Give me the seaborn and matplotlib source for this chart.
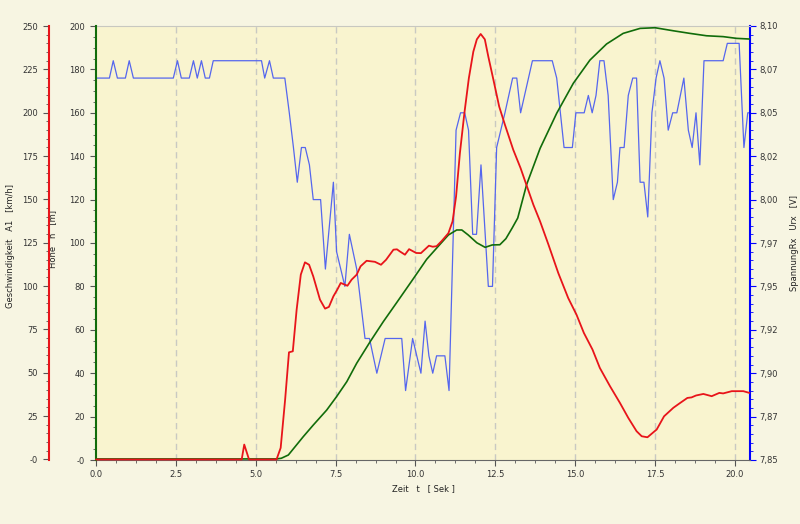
import numpy as np
import pandas as pd
import matplotlib
matplotlib.use("Agg")
import matplotlib.pyplot as plt
from matplotlib.ticker import MultipleLocator, FixedLocator
import seaborn as sns

# ---------------------------------------------------------------------------
# Data
# ---------------------------------------------------------------------------

# Geschwindigkeit A1 [km/h]
t_speed = [0.0, 4.56, 4.64, 4.79, 5.65, 5.78, 5.92, 6.04, 6.16, 6.28, 6.41, 6.54,
           6.67, 6.80, 7.01, 7.17, 7.29, 7.43, 7.55, 7.66, 7.87, 8.00, 8.16, 8.28,
           8.47, 8.73, 8.92, 9.08, 9.31, 9.42, 9.51, 9.67, 9.80, 10.02, 10.17, 10.42,
           10.54, 10.66, 10.82, 11.03, 11.16, 11.27, 11.39, 11.53, 11.67, 11.81,
           11.92, 12.04, 12.17, 12.28, 12.44, 12.62, 12.80, 13.06, 13.29, 13.46,
           13.69, 13.90, 14.16, 14.47, 14.78, 15.04, 15.27, 15.54, 15.77, 16.09,
           16.40, 16.66, 16.92, 17.08, 17.26, 17.55, 17.78, 18.07, 18.26, 18.51,
           18.64, 18.78, 19.01, 19.27, 19.51, 19.63, 19.90, 20.26, 20.45]
speed = [0, 0, 8.6, 0, 0, 6.7, 34.6, 61.8, 62.4, 86.4, 106.6, 113.7,
         112.3, 105.6, 92.2, 87.0, 88.0, 94.1, 97.9, 101.8, 100.2, 103.7, 106.6, 111.4,
         114.6, 114.0, 112.3, 115.2, 121.0, 121.2, 120.0, 118.1, 121.3, 119.1, 119.0, 123.3,
         122.7, 123.0, 126.0, 130.5, 137.3, 151.7, 176.7, 199.7, 219.9, 235.2,
         242.3, 245.4, 242.3, 232.3, 218.9, 203.5, 193.0, 178.6, 168.0, 159.0,
         146.9, 137.3, 124.0, 107.5, 93.1, 83.5, 73.0, 63.4, 52.8, 42.2,
         32.6, 24.0, 16.3, 13.4, 12.8, 17.3, 24.9, 29.8, 32.3, 35.5,
         35.8, 36.9, 37.8, 36.5, 38.4, 38.1, 39.4, 39.4, 38.4]

# Höhe h [m]
t_height = [0.0, 5.65, 5.80, 6.02, 6.23, 6.49, 6.80, 7.22, 7.53, 7.85, 8.16, 8.58,
            8.99, 9.41, 9.93, 10.35, 10.75, 11.03, 11.29, 11.45, 11.65, 11.92, 12.18,
            12.40, 12.64, 12.83, 13.03, 13.20, 13.48, 13.90, 14.42, 14.94, 15.46,
            15.98, 16.50, 17.03, 17.50, 18.07, 18.59, 19.11, 19.63, 20.05, 20.45]
height = [0.5, 0.5, 0.8, 2.3, 6.1, 10.8, 16.1, 23.0, 29.2, 36.1, 44.6, 54.5,
          63.7, 72.5, 83.5, 92.5, 99.1, 103.7, 106.0, 106.0, 103.7, 100.1, 98.0,
          99.1, 99.2, 102.0, 107.0, 111.5, 127.0, 143.6, 159.8, 173.6, 184.3,
          191.7, 196.6, 198.9, 199.2, 197.8, 196.6, 195.5, 195.1, 194.3, 194.0]

# SpannungRx Urx [V]
t_volt = [0.0, 0.42, 0.54, 0.67, 0.92, 1.04, 1.17, 2.42, 2.55, 2.67, 2.92, 3.05,
          3.17, 3.30, 3.42, 3.55, 3.67, 5.18, 5.28, 5.43, 5.55, 5.91, 6.05, 6.18,
          6.30, 6.43, 6.55, 6.68, 6.80, 7.03, 7.18, 7.43, 7.53, 7.79, 7.93, 8.16,
          8.42, 8.56, 8.79, 9.05, 9.57, 9.69, 9.91, 10.17, 10.30, 10.42, 10.54,
          10.66, 10.92, 11.05, 11.27, 11.41, 11.54, 11.66, 11.79, 11.91, 12.05,
          12.28, 12.41, 12.54, 12.80, 13.04, 13.17, 13.29, 13.66, 14.28, 14.42,
          14.65, 14.91, 15.02, 15.28, 15.41, 15.53, 15.65, 15.77, 15.90, 16.03,
          16.19, 16.32, 16.40, 16.53, 16.66, 16.80, 16.92, 17.03, 17.15, 17.27,
          17.40, 17.53, 17.65, 17.78, 17.91, 18.05, 18.18, 18.40, 18.54, 18.66,
          18.78, 18.90, 19.03, 19.63, 19.76, 20.13, 20.28, 20.40, 20.45]
volt = [8.07, 8.07, 8.08, 8.07, 8.07, 8.08, 8.07, 8.07, 8.08, 8.07, 8.07, 8.08,
        8.07, 8.08, 8.07, 8.07, 8.08, 8.08, 8.07, 8.08, 8.07, 8.07, 8.05, 8.03,
        8.01, 8.03, 8.03, 8.02, 8.00, 8.00, 7.96, 8.01, 7.97, 7.95, 7.98, 7.96,
        7.92, 7.92, 7.90, 7.92, 7.92, 7.89, 7.92, 7.90, 7.93, 7.91, 7.90,
        7.91, 7.91, 7.89, 8.04, 8.05, 8.05, 8.04, 7.98, 7.98, 8.02,
        7.95, 7.95, 8.03, 8.05, 8.07, 8.07, 8.05, 8.08, 8.08, 8.07,
        8.03, 8.03, 8.05, 8.05, 8.06, 8.05, 8.06, 8.08, 8.08, 8.06,
        8.00, 8.01, 8.03, 8.03, 8.06, 8.07, 8.07, 8.01, 8.01, 7.99,
        8.05, 8.07, 8.08, 8.07, 8.04, 8.05, 8.05, 8.07, 8.04, 8.03,
        8.05, 8.02, 8.08, 8.08, 8.09, 8.09, 8.03, 8.05, 8.05]

speed_ticks = [0, 25, 50, 75, 100, 125, 150, 175, 200, 225, 250]
speed_labels = ["-0", "25", "50", "75", "100", "125", "150", "175", "200", "225", "250"]
height_ticks = [0, 20, 40, 60, 80, 100, 120, 140, 160, 180, 200]
height_labels = ["-0", "20", "40", "60", "80", "100", "120", "140", "160", "180", "200"]
volt_ticks = [7.85, 7.875, 7.90, 7.925, 7.95, 7.975, 8.00, 8.025, 8.05, 8.075, 8.10]
volt_labels = ["7,85", "7,87", "7,90", "7,92", "7,95", "7,97",
               "8,00", "8,02", "8,05", "8,07", "8,10"]
time_ticks = [0.0, 2.5, 5.0, 7.5, 10.0, 12.5, 15.0, 17.5, 20.0]

# ---------------------------------------------------------------------------
# Style
# ---------------------------------------------------------------------------

FIG_BG = "#F7F5E2"
PLOT_BG = "#F9F4CF"
RED = "#E8141A"
GREEN = "#116C0A"
BLUE_LINE = "#5566EE"
BLUE_AXIS = "#0000FF"
FS = 6

sns.set_style("ticks")
plt.rcParams["font.family"] = ["DejaVu Sans"]
plt.rcParams["font.size"] = FS

fig = plt.figure(figsize=(8, 5.24), dpi=100, facecolor=FIG_BG)
ax_u = fig.add_axes([96 / 800, 1 - 460 / 524, 654 / 800, 434 / 524])
ax_u.set_facecolor(PLOT_BG)
ax_h = ax_u.twinx()
ax_v = ax_u.twinx()

df_u = pd.DataFrame({"t": t_volt, "u": volt})
df_h = pd.DataFrame({"t": t_height, "h": height})
df_v = pd.DataFrame({"t": t_speed, "v": speed})

sns.lineplot(data=df_u, x="t", y="u", ax=ax_u, color=BLUE_LINE, lw=0.9,
             estimator=None, sort=False)
sns.lineplot(data=df_h, x="t", y="h", ax=ax_h, color=GREEN, lw=1.2,
             estimator=None, sort=False)
sns.lineplot(data=df_v, x="t", y="v", ax=ax_v, color=RED, lw=1.3,
             estimator=None, sort=False)
for a in (ax_u, ax_h, ax_v):
    for ln in a.get_lines():
        ln.set_clip_on(False)

# vertical dashed grid
for xt in time_ticks[1:]:
    ax_u.axvline(xt, color="#C9C9C2", lw=1.0, ls=(0, (4.5, 3)), zorder=0)

ax_u.set_xlim(0, 20.47)
ax_u.set_ylim(7.85, 8.10)
ax_h.set_ylim(0, 200)
ax_v.set_ylim(-0.3, 250)

# x axis
ax_u.xaxis.set_major_locator(FixedLocator(time_ticks))
ax_u.xaxis.set_minor_locator(MultipleLocator(0.625))
ax_u.set_xticklabels([f"{x:.1f}" for x in time_ticks])
ax_u.tick_params(axis="x", which="major", length=4, color="#555555",
                 labelsize=FS, pad=3, labelcolor="#333333")
ax_u.tick_params(axis="x", which="minor", length=2, color="#555555")
ax_u.set_xlabel("Zeit   t   [ Sek ]", fontsize=FS, color="#222222")
ax_u.xaxis.set_label_coords(0.5, -0.055)

# blue (right) axis on the base axes
ax_u.yaxis.tick_right()
ax_u.yaxis.set_label_position("right")
ax_u.yaxis.set_major_locator(FixedLocator(volt_ticks))
ax_u.yaxis.set_minor_locator(MultipleLocator(0.005))
ax_u.set_yticklabels(volt_labels)
ax_u.tick_params(axis="y", which="major", length=4, color=BLUE_AXIS,
                 labelsize=FS, pad=3, labelcolor="#333333")
ax_u.tick_params(axis="y", which="minor", length=2, color=BLUE_AXIS)
ax_u.set_ylabel("SpannungRx   Urx   [V]", fontsize=FS, color="#222222")
ax_u.yaxis.set_label_coords(1.061, 0.5)
ax_u.spines["right"].set_color(BLUE_AXIS)
ax_u.spines["right"].set_linewidth(1.5)
ax_u.spines["left"].set_visible(False)
ax_u.spines["top"].set_color("#C8C8C0")
ax_u.spines["bottom"].set_color("#666666")

# green (inner left) axis
ax_h.yaxis.tick_left()
ax_h.yaxis.set_label_position("left")
ax_h.yaxis.set_major_locator(FixedLocator(height_ticks))
ax_h.yaxis.set_minor_locator(MultipleLocator(5))
ax_h.set_yticklabels(height_labels)
ax_h.tick_params(axis="y", which="major", length=4, color="#555555",
                 labelsize=FS, pad=4, labelcolor="#333333")
ax_h.tick_params(axis="y", which="minor", length=2, color="#555555")
ax_h.set_ylabel("Höhe   h   [m]", fontsize=FS, color="#222222")
ax_h.yaxis.set_label_coords(-0.0596, 0.51)
for s in ("right", "top", "bottom"):
    ax_h.spines[s].set_visible(False)
ax_h.spines["left"].set_color(GREEN)
ax_h.spines["left"].set_linewidth(1.5)
ax_h.set_xlabel("")

# red (outer left) axis
ax_v.yaxis.tick_left()
ax_v.yaxis.set_label_position("left")
ax_v.yaxis.set_major_locator(FixedLocator(speed_ticks))
ax_v.yaxis.set_minor_locator(MultipleLocator(5))
ax_v.set_yticklabels(speed_labels)
ax_v.tick_params(axis="y", which="major", length=4, color="#555555",
                 labelsize=FS, pad=4, labelcolor="#333333")
ax_v.tick_params(axis="y", which="minor", length=2, color="#555555")
ax_v.set_ylabel("Geschwindigkeit   A1   [km/h]", fontsize=FS, color="#222222")
ax_v.yaxis.set_label_coords(-0.124, 0.493)
for s in ("right", "top", "bottom"):
    ax_v.spines[s].set_visible(False)
ax_v.spines["left"].set_position(("outward", 47 * 0.72))
ax_v.spines["left"].set_color(RED)
ax_v.spines["left"].set_linewidth(1.5)
ax_v.set_xlabel("")

fig.savefig("out.png", dpi=100, facecolor=FIG_BG)
